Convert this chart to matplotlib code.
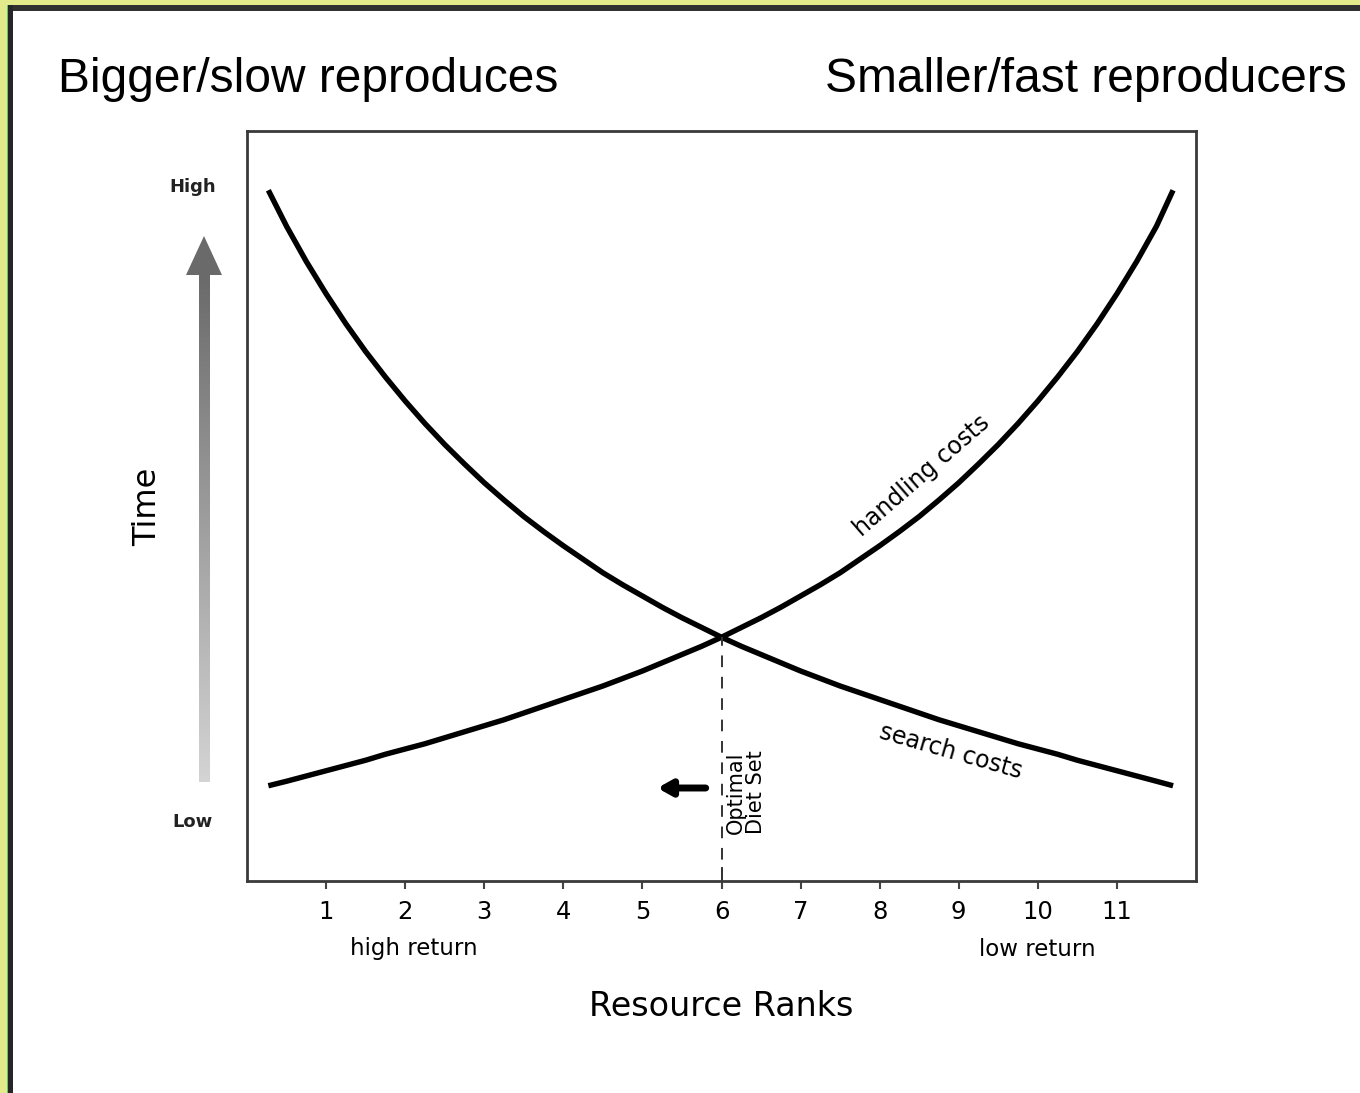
import matplotlib
matplotlib.use("Agg")
import matplotlib.pyplot as plt
import numpy as np
from matplotlib.patches import Rectangle

# ---- data ----
ranks = [1, 2, 3, 4, 5, 6, 7, 8, 9, 10, 11]
curve_x = [0.27, 0.5, 0.75, 1.0, 1.25, 1.5, 1.75, 2.0, 2.25, 2.5, 2.75, 3.0,
           3.25, 3.5, 3.75, 4.0, 4.25, 4.5, 4.75, 5.0, 5.25, 5.5, 5.75, 6.0,
           6.25, 6.5, 6.75, 7.0, 7.25, 7.5, 7.75, 8.0, 8.25, 8.5, 8.75, 9.0,
           9.25, 9.5, 9.75, 10.0, 10.25, 10.5, 10.75, 11.0, 11.25, 11.5, 11.71]
search_costs = [0.921, 0.873, 0.826, 0.783, 0.743, 0.706, 0.672, 0.640, 0.610,
                0.582, 0.556, 0.531, 0.508, 0.486, 0.466, 0.447, 0.429, 0.411,
                0.395, 0.380, 0.365, 0.351, 0.338, 0.325, 0.313, 0.302, 0.291,
                0.280, 0.270, 0.260, 0.251, 0.242, 0.233, 0.224, 0.215, 0.207,
                0.199, 0.191, 0.183, 0.176, 0.169, 0.161, 0.154, 0.147, 0.140,
                0.133, 0.127]
handling_costs = [0.127, 0.133, 0.140, 0.147, 0.154, 0.161, 0.169, 0.176, 0.183,
                  0.191, 0.199, 0.207, 0.215, 0.224, 0.233, 0.242, 0.251, 0.260,
                  0.270, 0.280, 0.291, 0.302, 0.313, 0.325, 0.338, 0.351, 0.365,
                  0.380, 0.395, 0.411, 0.429, 0.447, 0.466, 0.486, 0.508, 0.531,
                  0.556, 0.582, 0.610, 0.640, 0.672, 0.706, 0.743, 0.783, 0.826,
                  0.873, 0.921]
optimal_rank = 6
optimal_value = 0.325

W, H = 1360, 1093
fig = plt.figure(figsize=(W / 100, H / 100), dpi=100)
fig.patch.set_facecolor("white")

def fx(px):
    return px / W

def fy(py):
    return 1 - py / H

# decorative slide frame (yellow band + dark border)
yellow = "#e2ea8c"
fig.add_artist(Rectangle((0, fy(5)), 1, 5 / H, transform=fig.transFigure,
                         facecolor=yellow, edgecolor="none", zorder=0))
fig.add_artist(Rectangle((0, 0), 7 / W, 1, transform=fig.transFigure,
                         facecolor=yellow, edgecolor="none", zorder=0))
fig.add_artist(Rectangle((fx(7), 0), 1.2 / W, fy(5), transform=fig.transFigure,
                         facecolor="#62c96a", edgecolor="none", zorder=1))
fig.add_artist(Rectangle((fx(8), fy(11)), 1, 6 / H, transform=fig.transFigure,
                         facecolor="#303030", edgecolor="none", zorder=1))
fig.add_artist(Rectangle((fx(8), 0), 5 / W, fy(5), transform=fig.transFigure,
                         facecolor="#262626", edgecolor="none", zorder=1))

# top captions
fig.text(fx(58), fy(80), "Bigger/slow reproduces", fontsize=34.5,
         family="Liberation Sans", ha="left", va="center")
fig.text(fx(1347), fy(80), "Smaller/fast reproducers", fontsize=34.5,
         family="Liberation Sans", ha="right", va="center")

# main axes
ax = fig.add_axes([fx(247), fy(881), (1196 - 247) / W, (881 - 131) / H])
ax.set_xlim(0, 12)
ax.set_ylim(0, 1)
for s in ax.spines.values():
    s.set_color("#3a3a3a")
    s.set_linewidth(2.0)

gfont = "DejaVu Sans"
ax.plot(curve_x, search_costs, color="black", lw=3.9, solid_capstyle="butt",
        solid_joinstyle="round")
ax.plot(curve_x, handling_costs, color="black", lw=3.9, solid_capstyle="butt",
        solid_joinstyle="round")

ax.set_xticks(ranks)
ax.set_xticklabels([str(r) for r in ranks], fontsize=17.5, family=gfont)
ax.tick_params(axis="x", direction="out", length=6, width=1.5, color="#444444",
               pad=8)
ax.set_yticks([])

# optimal diet set marker
ax.plot([optimal_rank, optimal_rank], [0, optimal_value], color="#333333",
        lw=1.4, dashes=(6, 5))
ax.plot([optimal_rank, optimal_rank], [0, 0.018], color="#333333", lw=1.4)
ax.text(optimal_rank + 0.06, 0.062, "Optimal\nDiet Set", rotation=90,
        fontsize=15, family=gfont, ha="left", va="bottom", linespacing=1.0)
ax.annotate("", xy=(5.19, 0.124), xytext=(5.8, 0.124),
            arrowprops=dict(arrowstyle="-|>,head_length=0.8,head_width=0.45",
                            color="black", lw=5, shrinkA=0, shrinkB=0))

ax.text(8.9, 0.172, "search costs", rotation=-16, fontsize=17, family=gfont,
        ha="center", va="center")
ax.text(8.53, 0.54, "handling costs", rotation=41, fontsize=17, family=gfont,
        ha="center", va="center")

# x annotations
fig.text(fx(414), fy(949), "high return", fontsize=16.5, family=gfont,
         ha="center", va="center")
fig.text(fx(1037), fy(949), "low return", fontsize=16.5, family=gfont,
         ha="center", va="center")
fig.text(fx(721), fy(1006), "Resource Ranks", fontsize=24, family=gfont,
         ha="center", va="center")

# y annotations
fig.text(fx(193), fy(187), "High", fontsize=13, family=gfont, fontweight="bold",
         color="#222222", ha="center", va="center")
fig.text(fx(193), fy(822), "Low", fontsize=13, family=gfont, fontweight="bold",
         color="#222222", ha="center", va="center")
fig.text(fx(148), fy(507), "Time", fontsize=23, family=gfont, rotation=90,
         ha="center", va="center")

# gradient arrow for Time
gax = fig.add_axes([fx(186), fy(782), 36 / W, (782 - 236) / H])
gax.axis("off")
grad = np.linspace(0, 1, 256).reshape(-1, 1)
shaft_top = (782 - 275) / (782 - 236)
gax.imshow(grad, extent=[0.36, 0.64, 0, shaft_top], origin="lower",
           cmap=matplotlib.colors.LinearSegmentedColormap.from_list(
               "g", ["#d4d4d4", "#6a6a6a"]), aspect="auto", vmin=0, vmax=1)
gax.fill([0, 1, 0.5], [shaft_top, shaft_top, 1], color="#6a6a6a", lw=0)
gax.set_xlim(0, 1)
gax.set_ylim(0, 1)

fig.savefig("out.png", dpi=100, facecolor="white")
